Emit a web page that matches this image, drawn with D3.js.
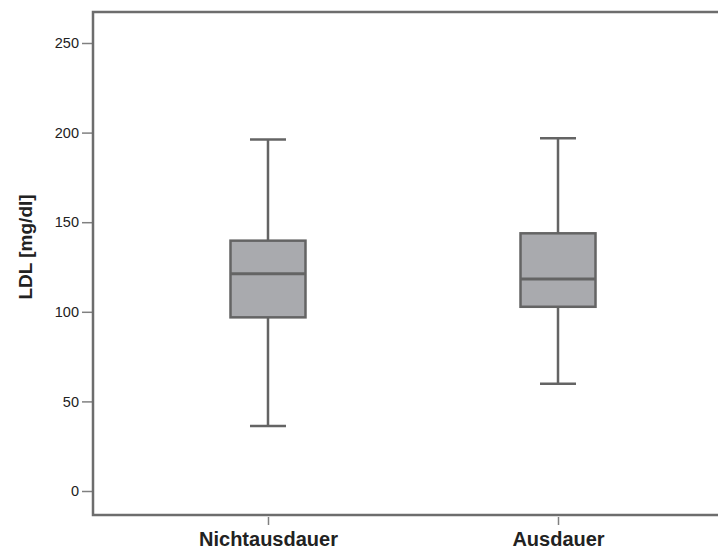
<!DOCTYPE html>
<meta charset="utf-8">
<style>
body { margin: 0; background: #fff; }
.frame { fill: none; stroke: #6d6d6d; stroke-width: 2.5px; }
.box { fill: #a9aaae; stroke: #646464; stroke-width: 2.5px; }
.whisker { stroke: #646464; stroke-width: 2.5px; }
.median { stroke: #646464; stroke-width: 3px; }
.tick line { stroke: #808080; stroke-width: 1.5px; }
.tick text { font-family: Arial, "Liberation Sans", sans-serif; fill: #222; }
</style>
<body><svg width="718" height="552"></svg></body>
<script src="https://d3js.org/d3.v7.min.js"></script>
<script>

var groups = ["Nichtausdauer", "Ausdauer"];
var lowWhisker = [36.3, 59.9];
var q1 = [96.9, 102.8];
var median = [121.3, 118.3];
var q3 = [139.7, 143.8];
var highWhisker = [196.1, 196.8];
var yTicks = [0, 50, 100, 150, 200, 250];

var svg = d3.select("svg");

var plotLeft = 93, plotTop = 12, plotRight = 733, plotBottom = 515;

var x = d3.scalePoint()
    .domain(groups)
    .range([plotLeft, plotRight])
    .padding(0.6034);

var y = d3.scaleLinear()
    .domain([0, 250])
    .range([491, 43]);

var data = groups.map(function(g, i) {
  return { name: g, lo: lowWhisker[i], q1: q1[i], med: median[i], q3: q3[i], hi: highWhisker[i] };
});

var boxW = 75, capW = 36;

var g = svg.selectAll(".group")
    .data(data)
  .enter().append("g")
    .attr("transform", function(d) { return "translate(" + x(d.name) + ",0)"; });

g.append("line")
    .attr("class", "whisker")
    .attr("y1", function(d) { return y(d.hi); })
    .attr("y2", function(d) { return y(d.lo); });

g.append("line")
    .attr("class", "whisker")
    .attr("x1", -capW / 2).attr("x2", capW / 2)
    .attr("y1", function(d) { return y(d.hi); })
    .attr("y2", function(d) { return y(d.hi); });

g.append("line")
    .attr("class", "whisker")
    .attr("x1", -capW / 2).attr("x2", capW / 2)
    .attr("y1", function(d) { return y(d.lo); })
    .attr("y2", function(d) { return y(d.lo); });

g.append("rect")
    .attr("class", "box")
    .attr("x", -boxW / 2)
    .attr("width", boxW)
    .attr("y", function(d) { return y(d.q3); })
    .attr("height", function(d) { return y(d.q1) - y(d.q3); });

g.append("line")
    .attr("class", "median")
    .attr("x1", -boxW / 2).attr("x2", boxW / 2)
    .attr("y1", function(d) { return y(d.med); })
    .attr("y2", function(d) { return y(d.med); });

// axes
var yAxis = svg.append("g")
    .attr("transform", "translate(" + (plotLeft - 1) + ",0)")
    .call(d3.axisLeft(y).tickValues(yTicks).tickSize(10).tickPadding(3));
yAxis.select(".domain").remove();
yAxis.selectAll("text").style("font-size", "14.5px");

var xAxis = svg.append("g")
    .attr("transform", "translate(0," + (plotBottom + 2) + ")")
    .call(d3.axisBottom(x).tickSize(8));
xAxis.select(".domain").remove();
xAxis.selectAll("text")
    .attr("dy", null)
    .attr("y", 29)
    .style("font-size", "20px")
    .style("font-weight", "bold");

svg.append("rect")
    .attr("class", "frame")
    .attr("x", plotLeft)
    .attr("y", plotTop)
    .attr("width", plotRight - plotLeft)
    .attr("height", plotBottom - plotTop);

svg.append("text")
    .attr("transform", "translate(32,247) rotate(-90)")
    .attr("text-anchor", "middle")
    .style("font-family", "Arial, 'Liberation Sans', sans-serif")
    .style("font-size", "19px")
    .style("font-weight", "bold")
    .style("fill", "#222")
    .text("LDL [mg/dl]");

</script>
